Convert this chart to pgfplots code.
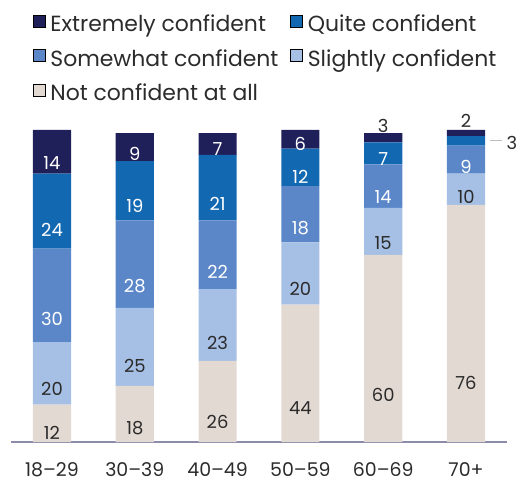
\documentclass[border=0pt]{standalone}
\usepackage{fontspec}
\setmainfont{Poppins}
\usepackage{pgfplots}
\pgfplotsset{compat=1.18}

\definecolor{cExt}{HTML}{1F1F5A}
\definecolor{cQui}{HTML}{1368B2}
\definecolor{cSom}{HTML}{5B87C9}
\definecolor{cSli}{HTML}{A6BFE4}
\definecolor{cNot}{HTML}{E3D9D3}
\definecolor{txt}{HTML}{2B2B2B}
\definecolor{axl}{HTML}{8C8CAA}

% label centred in its segment (3.12bp per unit; the shift is applied twice)
\pgfplotsset{
  seglabels/.style={
    visualization depends on=rawy\as\rawy,
    visualization depends on=rawx\as\rawx,
    nodes near coords={\pgfmathprintnumber{\rawy}},
    every node near coord/.append style={anchor=center, yshift={-\rawy*0.78*1bp}, text=#1, font=\fontsize{18}{20}\selectfont},
  },
}

\begin{document}
\begin{tikzpicture}
\begin{axis}[
  scale only axis,
  width=496bp, height=312bp,
  xmin=-0.495, xmax=5.495,
  ymin=0, ymax=100,
  ybar stacked,
  bar width=0.46,
  clip=false,
  /pgf/number format/assume math mode=true,
  axis y line=none,
  axis x line*=bottom,
  x axis line style={draw=axl, line width=1.3pt},
  xtick={0,...,5},
  xticklabels={18--29,30--39,40--49,50--59,60--69,70+},
  major tick length=0pt,
  xticklabel style={font=\fontsize{19}{21}\selectfont, text=txt, yshift=-17.5bp},
  legend columns=2,
  legend cell align=left,
  legend style={draw=none, at={(axis description cs:0.044,1.375)}, anchor=north west,
    font=\fontsize{22}{25}\selectfont, text=txt,
    /tikz/every even column/.append style={column sep=10bp},
    row sep=12bp, inner sep=0pt},
  legend image code/.code={\fill[#1] (0bp,-3bp) rectangle (12bp,9bp); \path (15bp,0bp);},
]
\addlegendimage{fill=cExt}\addlegendentry{Extremely confident}
\addlegendimage{fill=cQui}\addlegendentry{Quite confident}
\addlegendimage{fill=cSom}\addlegendentry{Somewhat confident}
\addlegendimage{fill=cSli}\addlegendentry{Slightly confident}
\addlegendimage{fill=cNot}\addlegendentry{Not confident at all}

\addplot+[forget plot, fill=cNot, draw=none, seglabels=txt] coordinates
  {(0,12) (1,18) (2,26) (3,44) (4,60) (5,76)};
\addplot+[forget plot, fill=cSli, draw=none, seglabels=txt] coordinates
  {(0,20) (1,25) (2,23) (3,20) (4,15) (5,10)};
\addplot+[forget plot, fill=cSom, draw=none, seglabels=white] coordinates
  {(0,30) (1,28) (2,22) (3,18) (4,14) (5,9)};
% the 70+ value sits outside the bar, to the right
\addplot+[forget plot, fill=cQui, draw=none, seglabels=white,
  nodes near coords={\ifdim\rawx pt>4.5pt \color{txt}\fi\pgfmathprintnumber{\rawy}},
  every node near coord/.append style={xshift={(\rawx>4.5)*46bp}}] coordinates
  {(0,24) (1,19) (2,21) (3,12) (4,7) (5,3)};
% 60-69 and 70+ values sit above the bar
\addplot+[forget plot, fill=cExt, draw=none, seglabels=white,
  nodes near coords={\ifdim\rawx pt>3.5pt \color{txt}\fi\pgfmathprintnumber{\rawy}},
  every node near coord/.append style={yshift={(\rawx>3.5)*14bp}}] coordinates
  {(0,14) (1,9) (2,7) (3,6) (4,3) (5,2)};

\draw[gray!50, line width=1pt] (axis cs:5.29,96.5) -- (axis cs:5.43,96.5);
\end{axis}
\path (current axis.south west) ++(-11bp,-42bp) rectangle ++(528bp,484bp);
\end{tikzpicture}
\end{document}
